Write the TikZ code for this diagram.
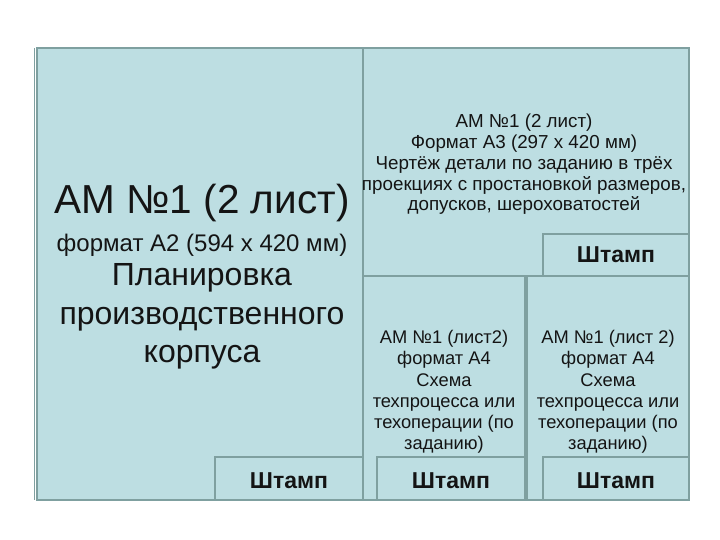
\documentclass[tikz,border=0pt]{standalone}
\usepackage{fontspec}
\setmainfont{Liberation Sans}
\definecolor{boxfill}{RGB}{189,222,226}
\definecolor{boxline}{RGB}{127,160,160}
\definecolor{inkc}{RGB}{20,20,20}
\begin{document}
\begin{tikzpicture}[x=1pt,y=-1pt,
  box/.style={draw=boxline, fill=boxfill, line width=1.6pt},
  txt/.style={align=center, text=inkc, inner sep=0pt},
  stamptxt/.style={txt, font=\fontsize{23}{26}\selectfont\bfseries}]
\useasboundingbox (0,0) rectangle (720,540);
% sheets
\draw[box] (37,48) rectangle (363,500);
\draw[boxline, line width=1pt] (34,48) -- (34,500);
\draw[box] (363,48) rectangle (689,276);
\draw[box] (363,276) rectangle (525,500);
\draw[box] (527,276) rectangle (689,500);
% stamps
\draw[box] (215,457) rectangle (363,500);
\draw[box] (543,234) rectangle (689,276);
\draw[box] (377,457) rectangle (525,500);
\draw[box] (543,457) rectangle (689,500);
% texts of A2 sheet
\node[txt, font=\fontsize{40.5}{44}\selectfont] (a2title) at (202,203) {АМ №1 (2 лист)};
\node[txt, font=\fontsize{24}{28}\selectfont] (a2fmt) at (202,245) {формат А2 (594 х 420 мм)};
\node[txt, font=\fontsize{32}{38.5}\selectfont] (a2body) at (202,316.5) {Планировка\\производственного\\корпуса};
% text of A3 sheet
\node[txt, font=\fontsize{18.8}{20.75}\selectfont] (a3body) at (524,164.5) {АМ №1 (2 лист)\\Формат А3 (297 х 420 мм)\\Чертёж детали по заданию в трёх\\проекциях с простановкой размеров,\\допусков, шероховатостей};
% texts of A4 sheets
\node[txt, font=\fontsize{18.3}{21.2}\selectfont] (a4lbody) at (444,392) {АМ №1 (лист2)\\формат А4\\Схема\\техпроцесса или\\техоперации (по\\заданию)};
\node[txt, font=\fontsize{18.3}{21.2}\selectfont] (a4rbody) at (608,392) {АМ №1 (лист 2)\\формат А4\\Схема\\техпроцесса или\\техоперации (по\\заданию)};
% stamp labels
\node[stamptxt] (st1) at (289,481) {Штамп};
\node[stamptxt] (st2) at (616,255) {Штамп};
\node[stamptxt] (st3) at (451,481) {Штамп};
\node[stamptxt] (st4) at (616,481) {Штамп};
\end{tikzpicture}
\end{document}
